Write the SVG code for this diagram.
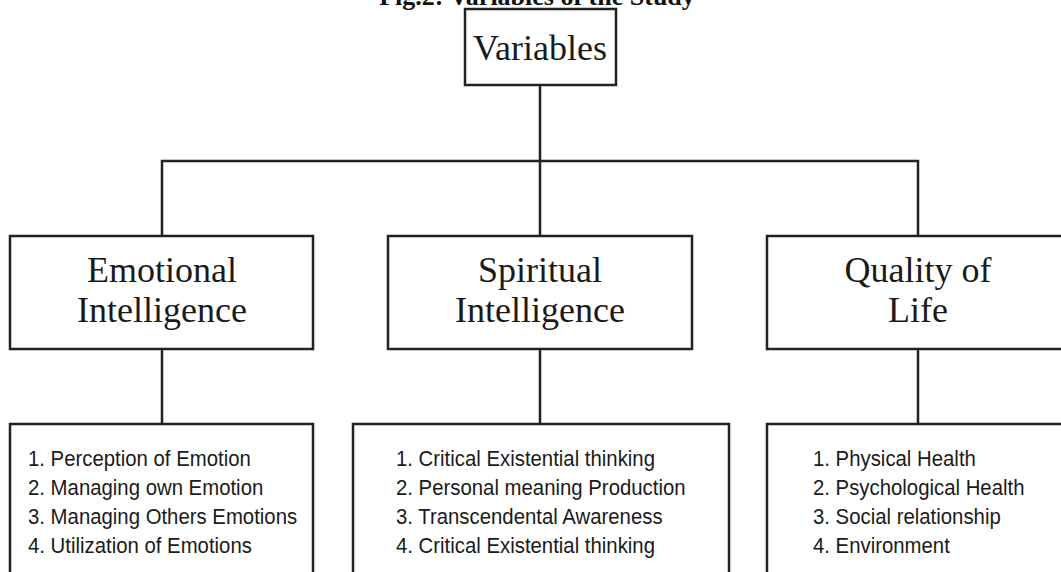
<svg xmlns="http://www.w3.org/2000/svg" width="1061" height="572" viewBox="0 0 1061 572">
<style>
.box{fill:#fff;stroke:#222;stroke-width:2.5}
.conn{fill:none;stroke:#222;stroke-width:2.5}
.title{font-family:"Liberation Serif","Times New Roman",serif;font-weight:bold;font-size:26px;fill:#111;text-anchor:middle}
.head{font-family:"Liberation Serif","Times New Roman",serif;font-size:36px;fill:#1a1a1a;text-anchor:middle}
.list{font-family:"Liberation Sans",Arial,sans-serif;font-size:22px;fill:#1a1a1a}
</style>
<rect width="1061" height="572" fill="#fff"/>
<text class="title" x="537" y="5">Fig.2: Variables of the Study</text>
<g id="connectors">
<path class="conn" d="M540 85 V236"/>
<path class="conn" d="M162 236 V161 H918 V236"/>
<path class="conn" d="M162 349 V424"/>
<path class="conn" d="M540 349 V424"/>
<path class="conn" d="M918 349 V424"/>
</g>
<g id="variables">
<rect class="box" x="465" y="9" width="151" height="76"/>
<text class="head" x="540" y="60">Variables</text>
</g>
<g id="emotional-intelligence">
<rect class="box" x="10" y="236" width="303" height="113"/>
<text class="head" x="162" y="282">Emotional</text>
<text class="head" x="162" y="322">Intelligence</text>
</g>
<g id="spiritual-intelligence">
<rect class="box" x="388" y="236" width="304" height="113"/>
<text class="head" x="540" y="282">Spiritual</text>
<text class="head" x="540" y="322">Intelligence</text>
</g>
<g id="quality-of-life">
<rect class="box" x="767" y="236" width="304" height="113"/>
<text class="head" x="918" y="282">Quality of</text>
<text class="head" x="918" y="322">Life</text>
</g>
<g id="ei-dimensions">
<rect class="box" x="10" y="424" width="303" height="160"/>
<g transform="translate(28,0) scale(0.925,1)">
<text class="list" x="0" y="466">1. Perception of Emotion</text>
<text class="list" x="0" y="495">2. Managing own Emotion</text>
<text class="list" x="0" y="524">3. Managing Others Emotions</text>
<text class="list" x="0" y="553">4. Utilization of Emotions</text>
</g>
</g>
<g id="si-dimensions">
<rect class="box" x="353" y="424" width="376" height="160"/>
<g transform="translate(396,0) scale(0.925,1)">
<text class="list" x="0" y="466">1. Critical Existential thinking</text>
<text class="list" x="0" y="495">2. Personal meaning Production</text>
<text class="list" x="0" y="524">3. Transcendental Awareness</text>
<text class="list" x="0" y="553">4. Critical Existential thinking</text>
</g>
</g>
<g id="qol-dimensions">
<rect class="box" x="767" y="424" width="304" height="160"/>
<g transform="translate(813,0) scale(0.925,1)">
<text class="list" x="0" y="466">1. Physical Health</text>
<text class="list" x="0" y="495">2. Psychological Health</text>
<text class="list" x="0" y="524">3. Social relationship</text>
<text class="list" x="0" y="553">4. Environment</text>
</g>
</g>
</svg>
